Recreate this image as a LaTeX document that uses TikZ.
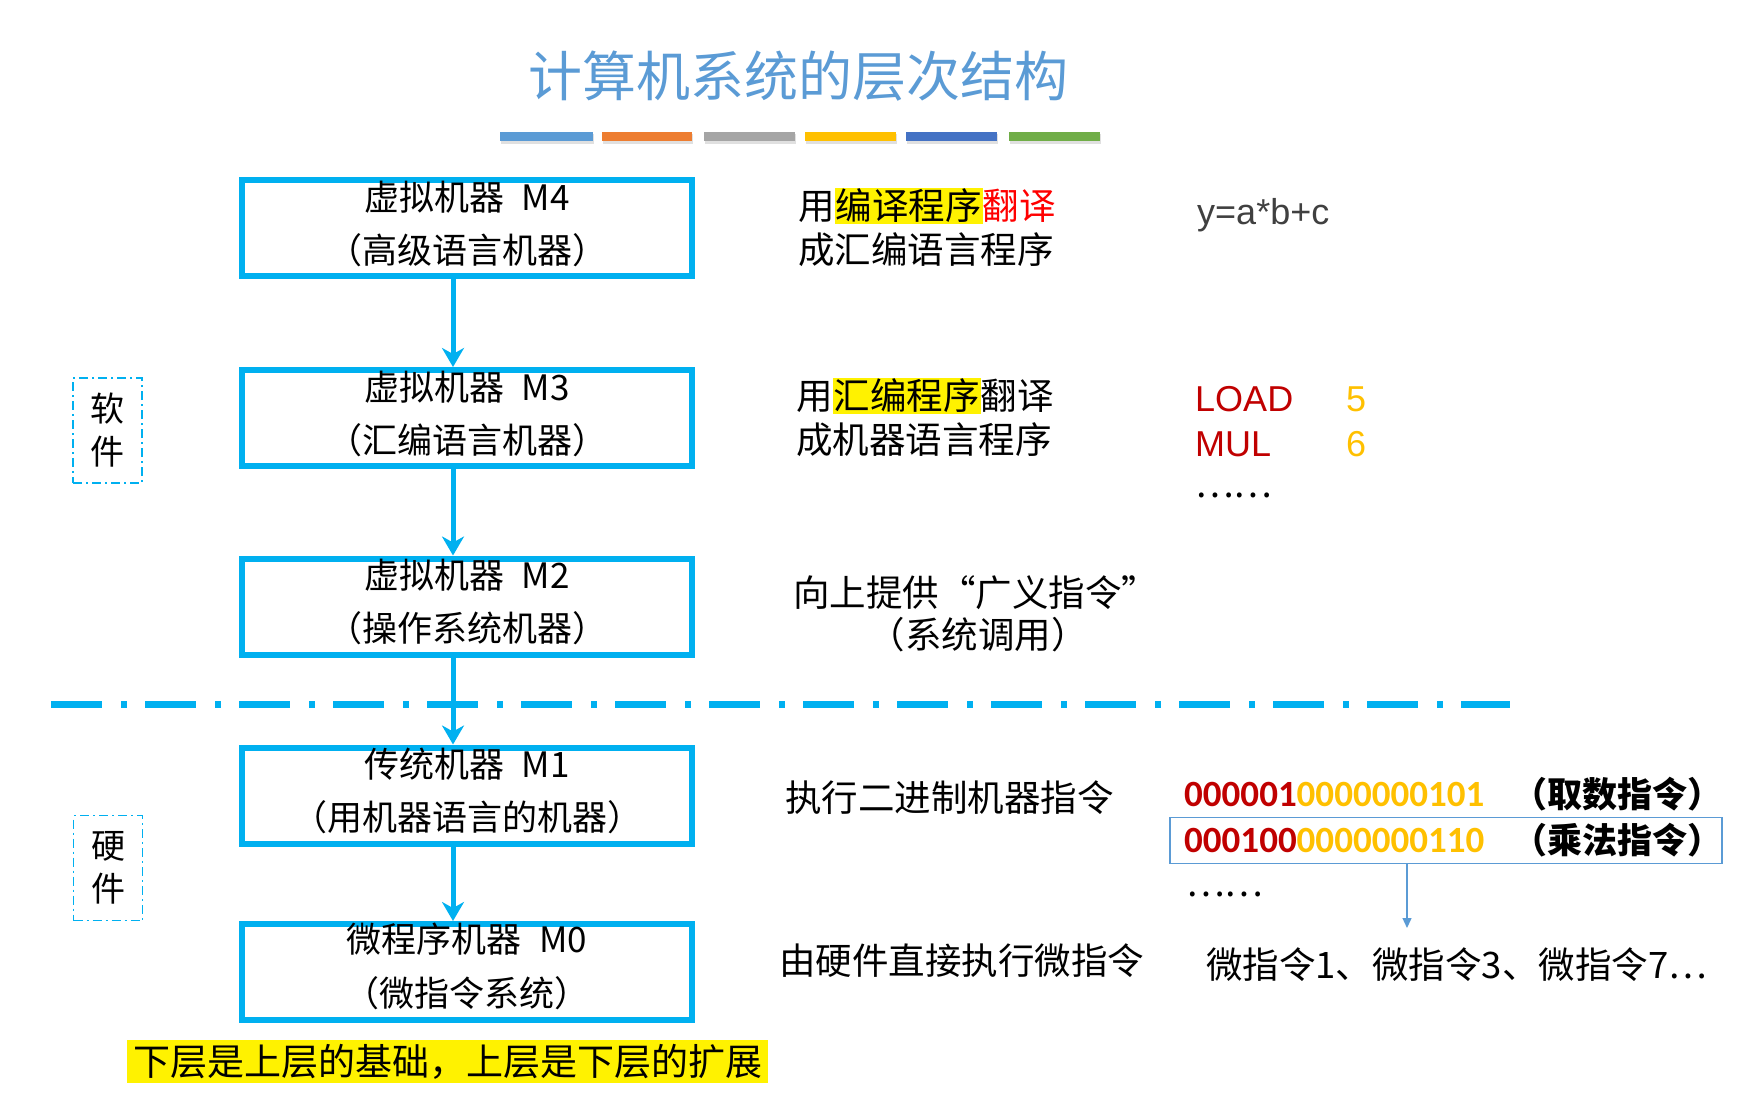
\documentclass[tikz,border=0pt]{standalone}
\usepackage{fontspec}
\setmainfont{Liberation Sans}
\newfontfamily\cjk{Noto Sans CJK SC}
\newfontfamily\calib{Carlito}
\usetikzlibrary{calc,arrows.meta}
\definecolor{boxcyan}{HTML}{00B0F0}
\definecolor{titleblue}{HTML}{5B9BD5}
\definecolor{dred}{HTML}{C00000}
\definecolor{gold}{HTML}{FFC000}
\definecolor{cA}{HTML}{5B9BD5}
\definecolor{cB}{HTML}{ED7D31}
\definecolor{cC}{HTML}{A5A5A5}
\definecolor{cD}{HTML}{FFC000}
\definecolor{cE}{HTML}{4472C4}
\definecolor{cF}{HTML}{70AD47}
\definecolor{gtext}{HTML}{404040}
\newcommand{\hlt}[1]{{\setlength{\fboxsep}{1pt}\colorbox{yellow}{#1}}}
\tikzset{
  mbox/.style={draw=boxcyan, line width=6pt, minimum width=450pt, minimum height=96pt, inner sep=0pt},
  btxt/.style={font=\cjk\fontsize{35}{40}\selectfont, inner sep=0pt},
  rtxt/.style={font=\cjk\fontsize{36.5}{44}\selectfont, inner sep=0pt, anchor=west},
  ltxt/.style={font=\fontsize{36}{44}\selectfont, inner sep=0pt, anchor=west},
  conn/.style={draw=boxcyan, line width=5pt, -{Stealth[length=19pt,width=22pt,inset=6pt]}},
  sidebox/.style={draw=boxcyan, line width=1.6pt, dash pattern=on 9pt off 4pt on 2pt off 4pt,
     minimum width=69pt, minimum height=105pt, inner sep=0pt, align=center,
     font=\cjk\fontsize{34}{43}\selectfont},
  bin/.style={font=\calib\bfseries\fontsize{37}{44}\selectfont, inner sep=0pt, anchor=west},
  binc/.style={font=\cjk\bfseries\fontsize{35}{44}\selectfont, inner sep=0pt, anchor=west},
}
\begin{document}
\begin{tikzpicture}[x=1pt,y=-1pt]
\useasboundingbox (0,0) rectangle (1763,1100);
% title
\node[font=\cjk\fontsize{54}{60}\selectfont, text=titleblue, inner sep=0pt] (title) at (798,76) {计算机系统的层次结构};
% colour bars
\foreach \xa/\xb/\cc in {500/593/cA, 602/692/cB, 704/795/cC, 805/896/cD, 906/997/cE, 1009/1100/cF}{
  \fill[black!12] (\xa+1,134) rectangle (\xb+1,144);
  \fill[\cc] (\xa,132) rectangle (\xb,141);
}
% machine boxes
\node[mbox] (m4) at (467,228) {};
\node[mbox] (m3) at (467,418) {};
\node[mbox] (m2) at (467,606.5) {};
\node[mbox] (m1) at (467,795.5) {};
\node[mbox] (m0) at (467,972) {};
\node[btxt] (m4a) at ($(m4.north)+(0,20)$) {虚拟机器\hspace{0.5em}M4};
\node[btxt] (m4b) at ($(m4.north)+(0,73)$) {（高级语言机器）};
\node[btxt] (m3a) at ($(m3.north)+(0,20)$) {虚拟机器\hspace{0.5em}M3};
\node[btxt] (m3b) at ($(m3.north)+(0,73)$) {（汇编语言机器）};
\node[btxt] (m2a) at ($(m2.north)+(0,20)$) {虚拟机器\hspace{0.5em}M2};
\node[btxt] (m2b) at ($(m2.north)+(0,73)$) {（操作系统机器）};
\node[btxt] (m1a) at ($(m1.north)+(0,20)$) {传统机器\hspace{0.5em}M1};
\node[btxt] (m1b) at ($(m1.north)+(0,73)$) {（用机器语言的机器）};
\node[btxt] (m0a) at ($(m0.north)+(0,18)$) {微程序机器\hspace{0.5em}M0};
\node[btxt] (m0b) at ($(m0.north)+(0,72)$) {（微指令系统）};
% dash-dot separator
\coordinate (dl) at (51,704);
\coordinate (dr) at (1510,704);
\draw[boxcyan, line width=7pt, dash pattern=on 51pt off 19pt on 6pt off 18pt] (dl) -- (dr);
% arrows
\coordinate (ax) at (453,0);
\draw[conn] (m4.south -| ax) -- (m3.north -| ax);
\draw[conn] (m3.south -| ax) -- (m2.north -| ax);
\draw[conn] (m2.south -| ax) -- (m1.north -| ax);
\draw[conn] (m1.south -| ax) -- (m0.north -| ax);
% side labels
\node[sidebox] (sw) at (107.5,430.5) {软\\件};
\node[sidebox] (hw) at (108,868) {硬\\件};
% right column texts
\node[rtxt] (t4a) at (798,206) {用\hlt{编译程序}\textcolor{red}{翻译}};
\node[rtxt] (t4b) at (798,250) {成汇编语言程序};
\node[ltxt, text=gtext] (e4) at (1197,215) {y=a*b+c};
\node[rtxt] (t3a) at (796,396) {用\hlt{汇编程序}翻译};
\node[rtxt] (t3b) at (796,440) {成机器语言程序};
\node[ltxt, text=dred] (ld) at (1195,399) {LOAD};
\node[ltxt, text=gold] (l5) at (1346,399) {5};
\node[ltxt, text=dred] (mu) at (1195,444) {MUL};
\node[ltxt, text=gold] (l6) at (1346,444) {6};
\node[rtxt] (dots3) at (1195,495) {……};
\node[rtxt] (t2a) at (793,593) {向上提供“广义指令”};
\node[rtxt, anchor=center] (t2b) at (978,635) {（系统调用）};
\node[rtxt] (t1) at (785,798) {执行二进制机器指令};
\node[bin] (b1) at (1184,794) {\textcolor{dred}{000001}\textcolor{gold}{0000000101}};
\node[binc] (b1c) at (1512,794) {（取数指令）};
\node[draw=titleblue, line width=1.6pt, minimum width=552pt, minimum height=46pt, inner sep=0pt] (bbox) at (1446,840.5) {};
\node[bin] (b2) at (1184,840) {\textcolor{dred}{000100}\textcolor{gold}{0000000110}};
\node[binc] (b2c) at (1512,840) {（乘法指令）};
\node[rtxt] (dots1) at (1186,894) {……};
\coordinate (ux) at (1407,928);
\draw[titleblue, line width=1.3pt, -{Triangle[length=10pt,width=9pt]}] (bbox.south -| ux) -- (ux);
\node[rtxt] (t0) at (779,961) {由硬件直接执行微指令};
\node[rtxt] (mi) at (1206,965) {微指令1、微指令3、微指令7…};
% bottom note
\node[fill=yellow, minimum width=641pt, minimum height=43pt, inner sep=0pt,
      font=\cjk\fontsize{37}{44}\selectfont] (note) at (447.5,1061.5) {下层是上层的基础，上层是下层的扩展};
\end{tikzpicture}
\end{document}
